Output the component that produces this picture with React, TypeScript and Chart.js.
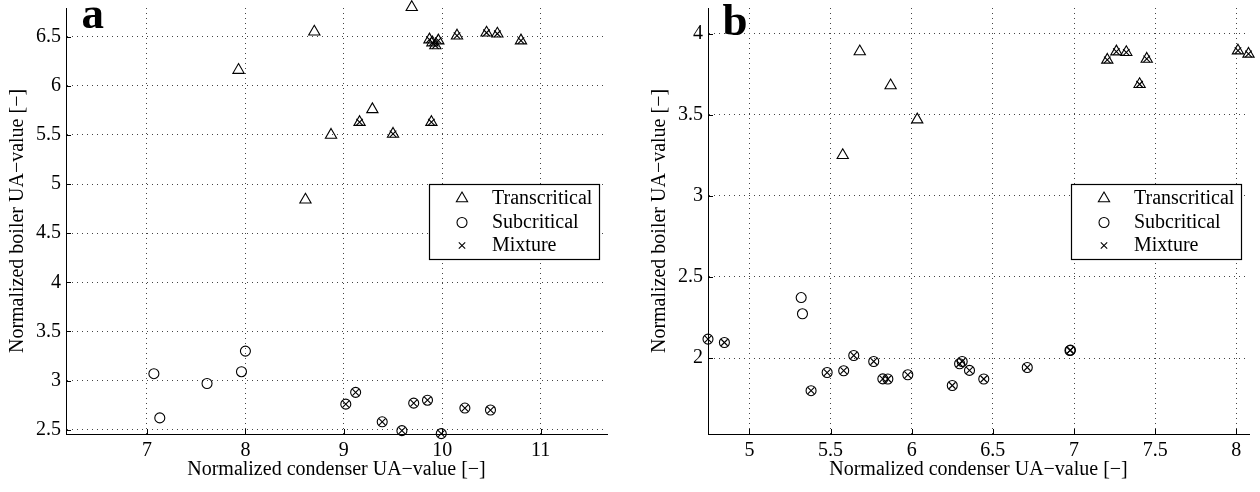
import React, { useEffect, useRef } from 'react';
import { Chart, registerables } from 'chart.js';

Chart.register(...registerables);

const FONT = '"Liberation Serif", "Times New Roman", Times, serif';

// ---------- Panel a ----------
const aXTicks = [7, 8, 9, 10, 11];
const aYTicks = [2.5, 3, 3.5, 4, 4.5, 5, 5.5, 6, 6.5];
// transcritical only
const aTransPureX = [7.93, 8.70, 8.87, 8.61, 9.29, 9.69];
const aTransPureY = [6.16, 6.55, 5.50, 4.84, 5.76, 6.80];
// transcritical mixtures
const aTransMixX = [9.87, 9.90, 9.96, 9.93, 10.15, 10.45, 10.56, 10.80, 9.16, 9.50, 9.89];
const aTransMixY = [6.47, 6.44, 6.46, 6.41, 6.51, 6.54, 6.53, 6.46, 5.63, 5.51, 5.63];
// subcritical only
const aSubPureX = [7.07, 7.13, 7.61, 7.96, 8.00];
const aSubPureY = [3.07, 2.62, 2.97, 3.09, 3.30];
// subcritical mixtures
const aSubMixX = [9.02, 9.12, 9.39, 9.59, 9.71, 9.85, 9.99, 10.23, 10.49];
const aSubMixY = [2.76, 2.88, 2.58, 2.49, 2.77, 2.80, 2.46, 2.72, 2.70];

// ---------- Panel b ----------
const bXTicks = [5, 5.5, 6, 6.5, 7, 7.5, 8];
const bYTicks = [2, 2.5, 3, 3.5, 4];
const bTransPureX = [5.575, 5.68, 5.87, 6.034];
const bTransPureY = [3.25, 3.89, 3.68, 3.47];
const bTransMixX = [7.205, 7.261, 7.322, 7.448, 7.404, 8.01, 8.075];
const bTransMixY = [3.838, 3.889, 3.885, 3.844, 3.688, 3.895, 3.875];
const bSubPureX = [5.319, 5.327];
const bSubPureY = [2.373, 2.273];
const bSubMixX = [4.745, 4.846, 5.38, 5.479, 5.581, 5.643, 5.766, 5.822, 5.853, 5.976, 6.25, 6.295, 6.311, 6.356, 6.444, 6.712, 6.975, 6.978];
const bSubMixY = [2.117, 2.096, 1.799, 1.911, 1.922, 2.016, 1.979, 1.872, 1.871, 1.897, 1.831, 1.965, 1.979, 1.924, 1.871, 1.942, 2.047, 2.049];

const legendLabels = ['Transcritical', 'Subcritical', 'Mixture'];
const xTitle = 'Normalized condenser UA\u2212value [\u2212]';
const yTitle = 'Normalized boiler UA\u2212value [\u2212]';

type XY = { x: number; y: number };
const pts = (xs: number[], ys: number[]): XY[] => xs.map((x, i) => ({ x, y: ys[i] }));

type PanelProps = {
  letter: string;
  letterX: number;
  letterY: number;
  xMin: number;
  xMax: number;
  yMin: number;
  yMax: number;
  xTicks: number[];
  yTicks: number[];
  transPure: XY[];
  transMix: XY[];
  subPure: XY[];
  subMix: XY[];
  left: number;
};

const W = 618;
const H = 492;

function drawMarker(ctx: CanvasRenderingContext2D, kind: number, x: number, y: number) {
  ctx.beginPath();
  if (kind === 0) {
    const r = 6.5;
    const s = Math.sin((2 * Math.PI) / 3) * r;
    ctx.moveTo(x, y - r);
    ctx.lineTo(x + s, y + r / 2);
    ctx.lineTo(x - s, y + r / 2);
    ctx.closePath();
  } else if (kind === 1) {
    ctx.arc(x, y, 5, 0, Math.PI * 2);
  } else {
    const d = 3.2;
    ctx.moveTo(x - d, y - d);
    ctx.lineTo(x + d, y + d);
    ctx.moveTo(x - d, y + d);
    ctx.lineTo(x + d, y - d);
  }
  ctx.stroke();
}

function Panel(p: PanelProps) {
  const ref = useRef<HTMLCanvasElement | null>(null);
  useEffect(() => {
    if (!ref.current) return;
    const overlay = {
      id: 'overlay',
      afterDraw(chart: any) {
        const { ctx, chartArea: ca, scales } = chart;
        ctx.save();
        // inward tick marks
        ctx.strokeStyle = '#000';
        ctx.lineWidth = 1;
        ctx.beginPath();
        p.xTicks.forEach((v) => {
          const px = Math.round(scales.x.getPixelForValue(v)) + 0.5;
          ctx.moveTo(px, ca.bottom);
          ctx.lineTo(px, ca.bottom - 5);
        });
        p.yTicks.forEach((v) => {
          const py = Math.round(scales.y.getPixelForValue(v)) + 0.5;
          ctx.moveTo(ca.left, py);
          ctx.lineTo(ca.left + 5, py);
        });
        ctx.stroke();
        // legend box
        const bx = 429.5, by = 184.5, bw = 170, bh = 75;
        ctx.fillStyle = '#fff';
        ctx.fillRect(bx, by, bw, bh);
        ctx.strokeStyle = '#000';
        ctx.lineWidth = 1.2;
        ctx.strokeRect(bx, by, bw, bh);
        const rows = [198.5, 222.5, 245.5];
        ctx.lineWidth = 1.1;
        ctx.fillStyle = '#000';
        ctx.font = `20px ${FONT}`;
        ctx.textBaseline = 'middle';
        ctx.textAlign = 'left';
        rows.forEach((ry, i) => {
          drawMarker(ctx, i, 462, ry);
          ctx.fillText(legendLabels[i], 492, ry);
        });
        // panel letter
        ctx.font = `bold 45px ${FONT}`;
        ctx.textBaseline = 'alphabetic';
        ctx.fillText(p.letter, p.letterX, p.letterY);
        ctx.restore();
      },
    };
    const common = {
      showLine: false,
      pointBorderColor: '#000',
      pointBackgroundColor: 'rgba(0,0,0,0)',
      pointBorderWidth: 1.1,
      clip: false as any,
    };
    const zeroPad = (s: any) => {
      s.paddingTop = 0;
      s.paddingBottom = 0;
      s.paddingLeft = 0;
      s.paddingRight = 0;
    };
    const chart = new Chart(ref.current, {
      type: 'scatter',
      data: {
        datasets: [
          { ...common, label: legendLabels[0], data: [...p.transPure, ...p.transMix], pointStyle: 'triangle', pointRadius: 6.5 },
          { ...common, label: legendLabels[1], data: [...p.subPure, ...p.subMix], pointStyle: 'circle', pointRadius: 5 },
          { ...common, label: legendLabels[2], data: [...p.transMix, ...p.subMix], pointStyle: 'crossRot', pointRadius: 4.6 },
        ],
      },
      options: {
        responsive: false,
        animation: false,
        events: [],
        devicePixelRatio: 1,
        layout: { padding: { top: 8, right: 11, left: 0, bottom: 0 } },
        plugins: { legend: { display: false }, tooltip: { enabled: false } },
        scales: {
          x: {
            type: 'linear',
            min: p.xMin,
            max: p.xMax,
            afterBuildTicks: (s: any) => {
              s.ticks = p.xTicks.map((v) => ({ value: v }));
            },
            afterFit: (s: any) => {
              s.height = 58;
              zeroPad(s);
            },
            grid: { color: '#444', lineWidth: 1, drawTicks: false },
            border: { display: true, color: '#000', width: 1, dash: [1, 4] },
            ticks: {
              padding: 5,
              color: '#000',
              font: { family: FONT, size: 20 },
              maxRotation: 0,
              callback: (v: any) => String(v),
            },
            title: {
              display: true,
              text: xTitle,
              color: '#000',
              font: { family: FONT, size: 20 },
              padding: { top: 0, bottom: 10 },
            },
          },
          y: {
            type: 'linear',
            min: p.yMin,
            max: p.yMax,
            afterBuildTicks: (s: any) => {
              s.ticks = p.yTicks.map((v) => ({ value: v }));
            },
            afterFit: (s: any) => {
              s.width = 66;
              zeroPad(s);
            },
            grid: { color: '#444', lineWidth: 1, drawTicks: false },
            border: { display: true, color: '#000', width: 1, dash: [1, 4] },
            ticks: {
              padding: 5,
              color: '#000',
              font: { family: FONT, size: 20 },
              callback: (v: any) => String(v),
            },
            title: {
              display: true,
              text: yTitle,
              color: '#000',
              font: { family: FONT, size: 20 },
              padding: { top: 6, bottom: 0 },
            },
          },
        },
      },
      plugins: [overlay],
    } as any);
    return () => chart.destroy();
  }, []);
  return (
    <canvas
      ref={ref}
      width={W}
      height={H}
      style={{ position: 'absolute', left: p.left, top: 0, width: W, height: H }}
    />
  );
}

export default function App() {
  return (
    <div style={{ position: 'absolute', left: 0, top: 0, width: 1260, height: 492, background: '#fff', overflow: 'hidden' }}>
      <Panel
        letter="a"
        letterX={81.5}
        letterY={28}
        xMin={6.177}
        xMax={11.674}
        yMin={2.456}
        yMax={6.792}
        xTicks={aXTicks}
        yTicks={aYTicks}
        transPure={pts(aTransPureX, aTransPureY)}
        transMix={pts(aTransMixX, aTransMixY)}
        subPure={pts(aSubPureX, aSubPureY)}
        subMix={pts(aSubMixX, aSubMixY)}
        left={0}
      />
      <Panel
        letter="b"
        letterX={80.5}
        letterY={35}
        xMin={4.745}
        xMax={8.078}
        yMin={1.532}
        yMax={4.158}
        xTicks={bXTicks}
        yTicks={bYTicks}
        transPure={pts(bTransPureX, bTransPureY)}
        transMix={pts(bTransMixX, bTransMixY)}
        subPure={pts(bSubPureX, bSubPureY)}
        subMix={pts(bSubMixX, bSubMixY)}
        left={642}
      />
    </div>
  );
}
